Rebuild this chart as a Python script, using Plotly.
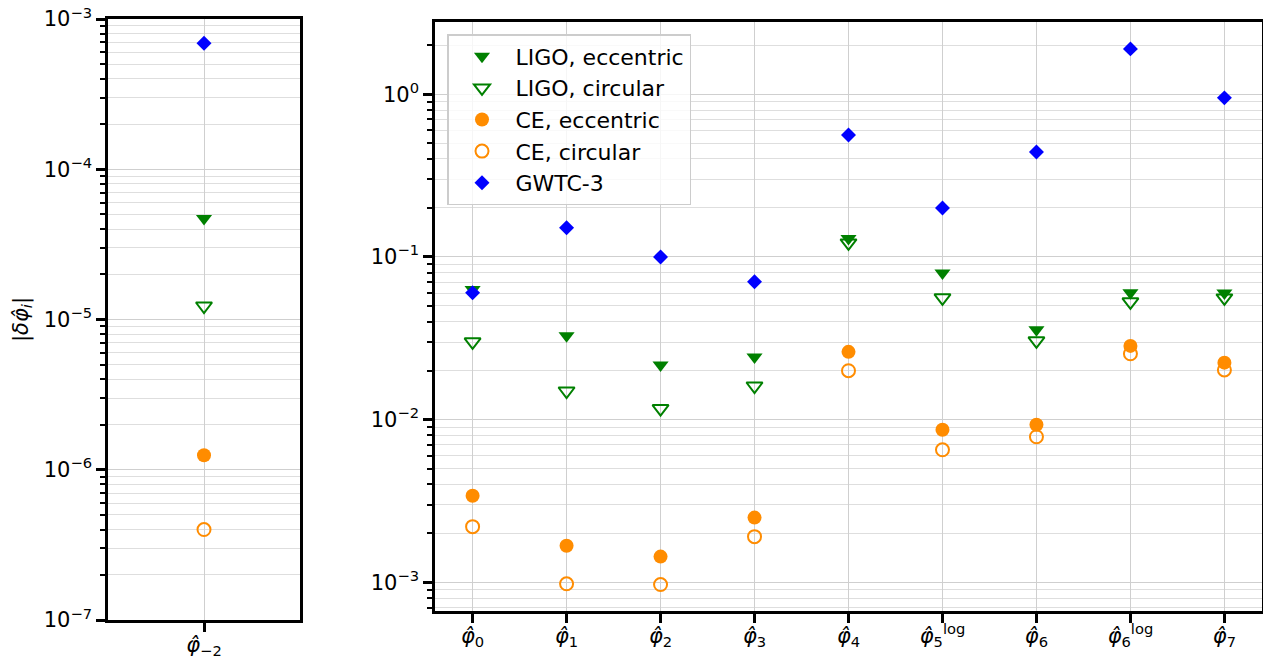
import plotly.graph_objects as go
from plotly.subplots import make_subplots

# ---------------- data ----------------
left_cats = ["<i>φ̂</i><sub>−2</sub>"]
left_ligo_ecc = [4.7e-5]
left_ligo_circ = [1.23e-5]
left_ce_ecc = [1.25e-6]
left_ce_circ = [4.0e-7]
left_gwtc = [6.9e-4]

cats = [
    "<i>φ̂</i><sub>0</sub>",
    "<i>φ̂</i><sub>1</sub>",
    "<i>φ̂</i><sub>2</sub>",
    "<i>φ̂</i><sub>3</sub>",
    "<i>φ̂</i><sub>4</sub>",
    "<i>φ̂</i><sub>5</sub><sup>log</sup>",
    "<i>φ̂</i><sub>6</sub>",
    "<i>φ̂</i><sub>6</sub><sup>log</sup>",
    "<i>φ̂</i><sub>7</sub>",
]
ligo_ecc = [0.063, 0.0328, 0.0217, 0.0243, 0.13, 0.0798, 0.0357, 0.0602, 0.060]
ligo_circ = [0.0301, 0.0150, 0.0117, 0.0161, 0.122, 0.0561, 0.0305, 0.053, 0.056]
ce_ecc = [0.00341, 0.00168, 0.00144, 0.0025, 0.0261, 0.00867, 0.0093, 0.0284, 0.0224]
ce_circ = [0.0022, 0.00098, 0.00097, 0.00191, 0.020, 0.00653, 0.00785, 0.0254, 0.0202]
gwtc = [0.0602, 0.151, 0.100, 0.0703, 0.562, 0.200, 0.442, 1.90, 0.95]

left_tickvals = [1e-7, 1e-6, 1e-5, 1e-4, 1e-3]
left_ticktext = ["10<sup>−7</sup>", "10<sup>−6</sup>", "10<sup>−5</sup>", "10<sup>−4</sup>", "10<sup>−3</sup>"]
right_tickvals = [1e-3, 1e-2, 1e-1, 1.0]
right_ticktext = ["10<sup>−3</sup>", "10<sup>−2</sup>", "10<sup>−1</sup>", "10<sup>0</sup>"]

GREEN = "#008000"
ORANGE = "#ff8c00"
BLUE = "#0000ff"
FONT = "DejaVu Sans"

def minor_vals(lo, hi):
    return [k * 10.0 ** e for e in range(lo, hi + 1) for k in range(2, 10)]

fig = make_subplots(rows=1, cols=2)

series = [
    ("LIGO, eccentric", left_ligo_ecc, ligo_ecc, dict(symbol="triangle-down", size=14, color=GREEN)),
    ("LIGO, circular", left_ligo_circ, ligo_circ, dict(symbol="triangle-down-open", size=14, color=GREEN, line=dict(width=2, color=GREEN))),
    ("CE, eccentric", left_ce_ecc, ce_ecc, dict(symbol="circle", size=14, color=ORANGE)),
    ("CE, circular", left_ce_circ, ce_circ, dict(symbol="circle-open", size=13, color=ORANGE, line=dict(width=2, color=ORANGE))),
    ("GWTC-3", left_gwtc, gwtc, dict(symbol="diamond", size=11.5, color=BLUE)),
]

for i, (name, lv, rv, mk) in enumerate(series):
    fig.add_trace(go.Scatter(x=left_cats, y=lv, mode="markers", marker=mk, name=name,
                             legendgroup=name, showlegend=False), row=1, col=1)
    fig.add_trace(go.Scatter(x=cats, y=rv, mode="markers", marker=mk, name=name,
                             legendgroup=name, showlegend=True), row=1, col=2)

axis_common = dict(showline=True, linewidth=2.5, linecolor="black", mirror=True,
                   ticks="outside", tickwidth=2.5, ticklen=9, tickcolor="black",
                   showgrid=True, gridcolor="#cfcfcf", gridwidth=1, automargin=False,
                   zeroline=False)

fig.update_xaxes(**axis_common, tickfont=dict(family=FONT, size=21, color="black"), ticklabelstandoff=-5)
fig.update_yaxes(**axis_common, tickfont=dict(family=FONT, size=21, color="black"))

fig.update_xaxes(domain=[108 / 1263, 300 / 1263], range=[-0.5, 0.5], type="category", row=1, col=1)
fig.update_xaxes(domain=[435 / 1263, 1262 / 1263], range=[-0.4, 8.4], type="category", row=1, col=2)

fig.update_yaxes(type="log", domain=[1 - 620 / 660, 1 - 19 / 660], range=[-7, -3],
                 tickmode="array", tickvals=left_tickvals, ticktext=left_ticktext,
                 minor=dict(tickmode="array", tickvals=minor_vals(-7, -4), ticks="outside",
                            ticklen=5, tickwidth=1.5, tickcolor="black", showgrid=True,
                            gridcolor="#dedede", gridwidth=1),
                 title=dict(text="|<i>δφ̂</i><sub><i>i</i></sub>|", font=dict(family=FONT, size=21, color="black"),
                            standoff=10),
                 row=1, col=1)
fig.update_yaxes(type="log", domain=[1 - 611 / 660, 1 - 22 / 660], range=[-3.176, 0.444],
                 tickmode="array", tickvals=right_tickvals, ticktext=right_ticktext,
                 minor=dict(tickmode="array", tickvals=minor_vals(-4, 0), ticks="outside",
                            ticklen=5, tickwidth=1.5, tickcolor="black", showgrid=True,
                            gridcolor="#dedede", gridwidth=1),
                 row=1, col=2)

fig.update_layout(
    width=1263, height=660, autosize=False,
    margin=dict(l=0, r=0, t=0, b=0),
    plot_bgcolor="white", paper_bgcolor="white",
    font=dict(family=FONT, size=20, color="black"),
    legend=dict(x=447 / 1263, y=1 - 34 / 660, xanchor="left", yanchor="top",
                bgcolor="rgba(255,255,255,0.8)", bordercolor="#cccccc", borderwidth=1.5,
                font=dict(family=FONT, size=22, color="black"),
                traceorder="grouped", tracegroupgap=0, itemwidth=57),
)

fig.write_html("out.html", config={"displayModeBar": False},
               post_script="document.body.style.margin='0';document.body.style.padding='0';document.body.style.overflow='hidden';")
